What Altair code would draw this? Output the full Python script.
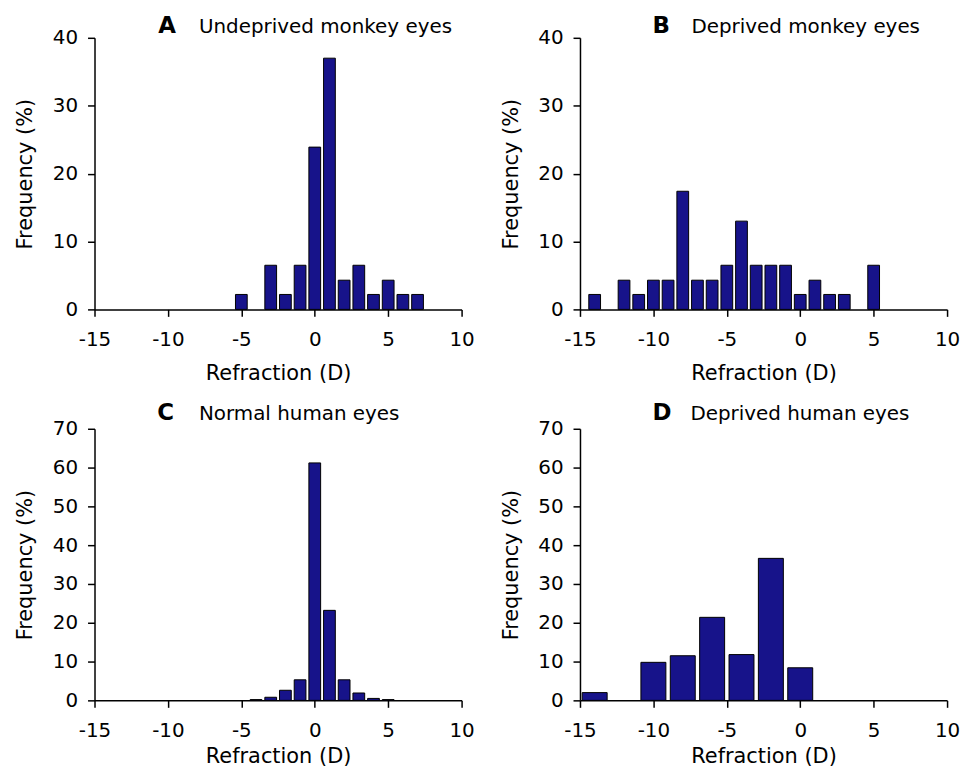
import altair as alt
import pandas as pd

FONT = "DejaVu Sans"
BAR_FILL = "#17138a"
PANEL_W = 369
PANEL_H = 273

# Panel A: undeprived monkey eyes, 1 D bins (refraction bin centre, % of eyes)
a_refraction = [-5, -3, -2, -1, 0, 1, 2, 3, 4, 5, 6, 7]
a_frequency = [2.2, 6.5, 2.2, 6.5, 23.9, 37.0, 4.3, 6.5, 2.2, 4.3, 2.2, 2.2]

# Panel B: deprived monkey eyes, 1 D bins
b_refraction = [-14, -12, -11, -10, -9, -8, -7, -6, -5, -4, -3, -2, -1, 0, 1, 2, 3, 5]
b_frequency = [2.2, 4.3, 2.2, 4.3, 4.3, 17.4, 4.3, 4.3, 6.5, 13.0, 6.5, 6.5, 6.5,
               2.2, 4.3, 2.2, 2.2, 6.5]

# Panel C: normal human eyes, 1 D bins
c_refraction = [-4, -3, -2, -1, 0, 1, 2, 3, 4, 5]
c_frequency = [0.2, 0.8, 2.6, 5.3, 61.2, 23.2, 5.3, 1.9, 0.5, 0.2]

# Panel D: deprived human eyes, 2 D bins
d_refraction = [-14, -10, -8, -6, -4, -2, 0]
d_frequency = [2.0, 9.8, 11.5, 21.4, 11.8, 36.6, 8.4]

x_ticks = [-15, -10, -5, 0, 5, 10]


def panel(refraction, frequency, bar_width, y_max, letter, label,
          letter_x, label_x, title_y, x_title_y):
    df = pd.DataFrame({"refraction": refraction, "frequency": frequency})
    half = bar_width / 2
    bars = (
        alt.Chart(df)
        .transform_calculate(lo=f"datum.refraction - {half}",
                             hi=f"datum.refraction + {half}")
        .mark_rect(fill=BAR_FILL, stroke="black", strokeWidth=1)
        .encode(
            x=alt.X(
                "lo:Q",
                scale=alt.Scale(domain=[-15, 10], nice=False, zero=False, padding=0),
                axis=alt.Axis(
                    values=x_ticks,
                    title="Refraction (D)",
                    labelExpr="'' + datum.value",
                    labelPadding=13,
                    labelFlush=False,
                    labelOverlap=False,
                    titleY=x_title_y,
                    titleBaseline="alphabetic",
                ),
            ),
            x2="hi:Q",
            y=alt.Y(
                "frequency:Q",
                scale=alt.Scale(domain=[0, y_max], nice=False, padding=0),
                axis=alt.Axis(
                    values=list(range(0, y_max + 1, 10)),
                    title="Frequency (%)",
                    labelExpr="'' + datum.value",
                    labelPadding=10,
                    labelFlush=False,
                    labelOverlap=False,
                    titleX=-69,
                    titleY=PANEL_H / 2,
                    titleAngle=-90,
                    titleAlign="center",
                    titleBaseline="middle",
                ),
            ),
            y2=alt.datum(0),
        )
    )
    head = (
        alt.Chart(pd.DataFrame({"t": [letter]}))
        .mark_text(align="left", baseline="alphabetic", font=FONT,
                   fontSize=23, fontWeight="bold", color="black")
        .encode(x=alt.value(letter_x), y=alt.value(title_y), text="t:N")
    )
    caption = (
        alt.Chart(pd.DataFrame({"t": [label]}))
        .mark_text(align="left", baseline="alphabetic", font=FONT,
                   fontSize=20, color="black")
        .encode(x=alt.value(label_x), y=alt.value(title_y), text="t:N")
    )
    return alt.layer(bars, head, caption).properties(width=PANEL_W, height=PANEL_H)


pa = panel(a_refraction, a_frequency, 0.8, 40, "A", "Undeprived monkey eyes",
           64, 105, -5, 70)
pb = panel(b_refraction, b_frequency, 0.8, 40, "B", "Deprived monkey eyes",
           73, 112, -5, 70)
pc = panel(c_refraction, c_frequency, 0.8, 70, "C", "Normal human eyes",
           63, 105, -9, 62)
pd_ = panel(d_refraction, d_frequency, 1.7, 70, "D", "Deprived human eyes",
            73, 111, -9, 62)

chart = (
    alt.concat(pa, pb, pc, pd_, columns=2,
               spacing=alt.RowColnumber(row=120, column=119), bounds="flush")
    .properties(padding={"left": 14, "top": 13, "right": 0, "bottom": 3},
                background="white")
    .configure_view(stroke=None)
    .configure_axis(
        grid=False,
        domainColor="black",
        domainWidth=1.5,
        tickColor="black",
        tickWidth=1.5,
        tickSize=7,
        labelFont=FONT,
        labelFontSize=20,
        labelColor="black",
        titleFont=FONT,
        titleFontSize=21,
        titleFontWeight="normal",
        titleColor="black",
    )
)

chart.save("out.html", embed_options={"renderer": "svg", "actions": False})
